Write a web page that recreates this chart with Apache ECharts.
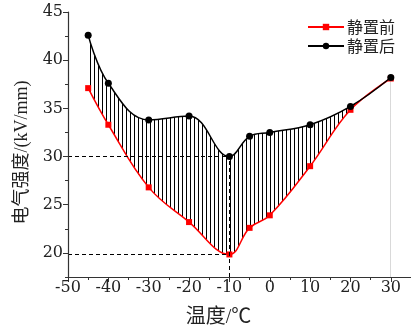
<!DOCTYPE html>
<html>
<head>
<meta charset="utf-8">
<script src="https://cdn.jsdelivr.net/npm/echarts@6/dist/echarts.min.js"></script>
<style>
html,body{margin:0;padding:0;background:#fff;}
#c{width:411px;height:329px;}
</style>
</head>
<body>
<div id="c"></div>
<script>
const temps = [-45, -40, -30, -20, -10, -5, 0, 10, 20, 30];
const before = [37.1, 33.3, 26.8, 23.2, 19.84, 22.6, 23.9, 29.0, 34.85, 38.1];
const after = [42.6, 37.6, 33.8, 34.2, 30.0, 32.1, 32.5, 33.3, 35.2, 38.2];
const yTickLabels = [20, 25, 30, 35, 40, 45];
const xTickLabels = [-50, -40, -30, -20, -10, 0, 10, 20, 30];
const seriesNames = ['静置前', '静置后'];
const markTemp = -10;

const idx = temps.indexOf(markTemp);
const pair = (ys) => temps.map((t, i) => [t, ys[i]]);

const pc = document.createElement('canvas');
pc.width = 4; pc.height = 4;
const g = pc.getContext('2d');
g.fillStyle = '#000';
g.fillRect(2, 0, 1, 4);

const SM = 0.4;
const serif = '"DejaVu Serif", "Noto Sans CJK SC", serif';
const nameFont = '"Liberation Serif", "Noto Sans CJK SC", serif';
const chart = echarts.init(document.getElementById('c'), null, {renderer: 'canvas'});
chart.setOption({
  animation: false,
  backgroundColor: '#fff',
  grid: {left: 68, right: 0, top: 12, bottom: 52, containLabel: false, outerBoundsMode: 'none'},
  legend: {
    data: seriesNames.map(n => ({name: n})),
    orient: 'vertical',
    left: 302, top: 14,
    itemWidth: 36, itemHeight: 8, itemGap: 3,
    textStyle: {fontFamily: '"Noto Sans CJK SC", sans-serif', fontSize: 16, color: '#222', padding: [0, 0, 0, -2]}
  },
  xAxis: {
    type: 'value', min: -50, max: 35, interval: 10, z: 10,
    axisLine: {show: true, onZero: false, lineStyle: {color: '#333', width: 1.2}},
    axisTick: {show: true, length: 5, inside: false, customValues: xTickLabels, lineStyle: {color: '#333'}},
    minorTick: {show: true, splitNumber: 2, length: 3, lineStyle: {color: '#333'}},
    splitLine: {show: false},
    axisLabel: {customValues: xTickLabels, margin: 3, fontFamily: serif, fontSize: 16, color: '#222'},
    name: '温度/℃', nameLocation: 'middle', nameGap: 31,
    nameTextStyle: {fontFamily: nameFont, fontSize: 20, color: '#222', padding: [0, 42, 0, 0]}
  },
  yAxis: [{
    type: 'value', min: 17.5, max: 45, interval: 2.5, z: 10,
    axisLine: {show: true, onZero: false, lineStyle: {color: '#333', width: 1.2}},
    axisTick: {show: true, length: 5, customValues: yTickLabels, lineStyle: {color: '#333'}},
    splitLine: {show: false},
    axisLabel: {customValues: yTickLabels, margin: 5, fontFamily: serif, fontSize: 16, color: '#222'},
    name: '电气强度/(kV/mm)', nameLocation: 'middle', nameGap: 32, nameRotate: 90,
    nameTextStyle: {fontFamily: nameFont, fontSize: 18, color: '#222', padding: [0, 0, 0, -16]}
  }, {
    type: 'value', min: 17.5, max: 45, interval: 2.5, position: 'left', offset: 0, z: 9,
    axisLine: {show: false, onZero: false},
    axisTick: {show: true, length: 3, lineStyle: {color: '#333'}},
    axisLabel: {show: false},
    splitLine: {show: false}
  }],
  series: [
    {
      name: 'hatch', type: 'line', z: 1, smooth: SM, showSymbol: false, silent: true,
      data: pair(after),
      lineStyle: {width: 0},
      areaStyle: {color: {image: pc, repeat: 'repeat'}, opacity: 1, origin: 'start'}
    },
    {
      name: 'mask', type: 'line', z: 2, smooth: SM, showSymbol: false, silent: true,
      data: pair(before),
      lineStyle: {width: 0},
      areaStyle: {color: '#fff', opacity: 1, origin: 'start'}
    },
    {
      name: seriesNames[0], type: 'line', z: 3, smooth: SM,
      data: pair(before),
      symbol: 'rect', symbolSize: 6,
      itemStyle: {color: '#ff0000'},
      lineStyle: {color: '#ff0000', width: 1.5}
    },
    {
      name: seriesNames[1], type: 'line', z: 4, smooth: SM,
      data: pair(after),
      symbol: 'circle', symbolSize: 7,
      itemStyle: {color: '#000'},
      lineStyle: {color: '#000', width: 1.5}
    },
    {
      name: 'guides', type: 'line', z: 5, data: [],
      markLine: {
        silent: true, symbol: 'none', animation: false,
        lineStyle: {color: '#000', type: [4, 3], width: 1},
        label: {show: false},
        data: [
          [{coord: [-50, after[idx]]}, {coord: [markTemp, after[idx]]}],
          [{coord: [-50, before[idx]]}, {coord: [markTemp, before[idx]]}],
          [{coord: [markTemp, 17.5]}, {coord: [markTemp, after[idx]]}]
        ]
      }
    }
  ]
});
</script>
</body>
</html>
